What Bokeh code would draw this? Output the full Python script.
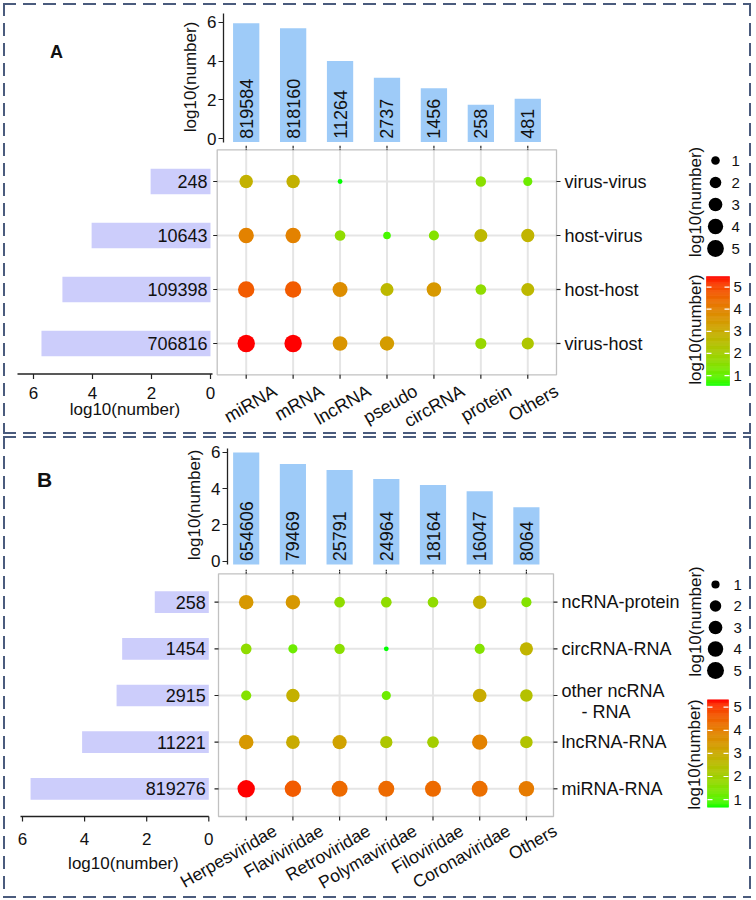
import numpy as np
from bokeh.plotting import figure
from bokeh.models import ColumnDataSource, Range1d, FixedTicker, LinearColorMapper, Div, BoxAnnotation
from bokeh.layouts import column, row
from bokeh.core.properties import value
from bokeh.embed import file_html
from bokeh.resources import INLINE

# ---------------- panel A data ----------------
A_COLS = ["miRNA", "mRNA", "lncRNA", "pseudo", "circRNA", "protein", "Others"]
A_COL_COUNTS = ["819584", "818160", "11264", "2737", "1456", "258", "481"]
A_COL_LOG = [5.95, 5.69, 4.01, 3.14, 2.60, 1.75, 2.06]
A_ROWS = ["virus-virus", "host-virus", "host-host", "virus-host"]
A_ROW_COUNTS = ["248", "10643", "109398", "706816"]
A_ROW_LOG = [2.03, 4.03, 5.02, 5.73]
A_VIRUS_VIRUS = [2.85, 2.85, 0.55, None, None, 1.54, 1.14]
A_HOST_VIRUS = [4.00, 4.00, 1.63, 0.80, 1.44, 2.67, 2.77]
A_HOST_HOST = [4.74, 4.74, 3.75, 2.67, 3.51, 1.63, 2.67]
A_VIRUS_HOST = [5.48, 5.48, 3.61, 3.41, None, 1.78, 2.28]

# ---------------- panel B data ----------------
B_COLS = ["Herpesviridae", "Flaviviridae", "Retroviridae", "Polymaviridae",
          "Filoviridae", "Coronaviridae", "Others"]
B_COL_COUNTS = ["654606", "79469", "25791", "24964", "18164", "16047", "8064"]
B_COL_LOG = [5.98, 5.35, 5.02, 4.53, 4.20, 3.85, 2.97]
B_ROWS = ["ncRNA-protein", "circRNA-RNA", "other ncRNA - RNA", "lncRNA-RNA", "miRNA-RNA"]
B_ROW_COUNTS = ["258", "1454", "2915", "11221", "819276"]
B_ROW_LOG = [1.74, 2.79, 2.97, 4.08, 5.74]
B_NCRNA_PROTEIN = [3.46, 3.46, 1.69, 1.69, 1.69, 2.86, 1.51]
B_CIRCRNA_RNA = [1.69, 1.23, 1.60, 0.67, None, 1.51, 2.76]
B_OTHER_NCRNA_RNA = [1.51, 2.86, None, 1.23, None, 2.99, 2.44]
B_LNCRNA_RNA = [3.46, 2.99, 3.23, 2.30, 2.07, 3.93, 2.39]
B_MIRNA_RNA = [5.32, 4.62, 4.39, 4.39, 4.39, 4.30, 4.06]

LEGEND_LEVELS = [1, 2, 3, 4, 5]
AXIS_TICKS = [0, 2, 4, 6]

FONT = "Liberation Sans"
TXT = "#111111"
AXC = "#222222"
GRID = "#e5e5e5"
BORDER = "#4a5b7d"
TOP_BAR = "#9ecbf8"
LEFT_BAR = "#cccdfb"


def lab_palette(lo_hex, hi_hex, n=256):
    M = np.array([[0.4124564, 0.3575761, 0.1804375],
                  [0.2126729, 0.7151522, 0.0721750],
                  [0.0193339, 0.1191920, 0.9503041]])
    Minv = np.linalg.inv(M)
    WP = np.array([0.95047, 1.0, 1.08883])
    d = 6 / 29

    def to_lab(h):
        rgb = np.array([int(h[i:i + 2], 16) / 255 for i in (1, 3, 5)])
        lin = np.where(rgb <= 0.04045, rgb / 12.92, ((rgb + 0.055) / 1.055) ** 2.4)
        xyz = M @ lin / WP
        f = np.where(xyz > d ** 3, np.cbrt(xyz), xyz / (3 * d * d) + 4 / 29)
        return np.array([116 * f[1] - 16, 500 * (f[0] - f[1]), 200 * (f[1] - f[2])])

    a, b = to_lab(lo_hex), to_lab(hi_hex)
    out = []
    for t in np.linspace(0, 1, n):
        L, A, B = a + (b - a) * t
        fy = (L + 16) / 116
        f = np.array([fy + A / 500, fy, fy - B / 200])
        xyz = np.where(f > d, f ** 3, 3 * d * d * (f - 4 / 29)) * WP
        lin = np.clip(Minv @ xyz, 0, 1)
        rgb = np.where(lin <= 0.0031308, 12.92 * lin, 1.055 * lin ** (1 / 2.4) - 0.055)
        out.append("#%02x%02x%02x" % tuple(int(round(c * 255)) for c in np.clip(rgb, 0, 1)))
    return out


PALETTE = lab_palette("#00ff00", "#ff0000")


def dot_size(v, vmin, vmax):
    return 4.8 + 12.6 * np.sqrt((v - vmin) / (vmax - vmin))


def fig(**kw):
    p = figure(toolbar_location=None, output_backend="svg", **kw)
    p.grid.visible = False
    p.outline_line_color = None
    p.background_fill_color = "white"
    p.border_fill_color = "white"
    return p


def txt(p, size, **kw):
    return p.text(text_font=value(FONT), text_font_size=value(size), text_color=TXT, **kw)


def build_panel(letter, cols, col_counts, col_log, rows, row_counts, row_log, dots, g):
    nc, nr = len(cols), len(rows)
    cx = list(range(nc))
    ry = list(range(nr))[::-1]
    vals = [v for r in dots for v in r if v is not None]
    vmin, vmax = min(vals), max(vals)
    mapper = LinearColorMapper(palette=PALETTE, low=vmin, high=vmax)

    bl, br, bt, bb = g["box"]
    top, r1b, bot = g["top"], g["row1_bottom"], g["bottom"]
    L, LL, R = 5, 684, 749

    def xm(px):
        return (px - g["col0"]) / g["col_step"]

    def ym(py):
        return (nr - 1) - (py - g["row0"]) / g["row_step"]

    def xl(px):
        return (g["lb_zero"] - px) / g["lb_unit"]

    def yt(py):
        return (g["tb_zero"] - py) / g["tb_unit"]

    # ---- panel letter ----
    div = Div(text=('<div style="font-family:\'Liberation Sans\',Arial;font-weight:bold;'
                    'font-size:%dpx;line-height:%dpx;padding:%dpx 0 0 %dpx;color:#111">%s</div>'
                    % (g["let_fs"], g["let_fs"], g["let_top"], g["let_left"], letter)),
              width=g["div_w"], height=r1b - top, margin=(0, 0, 0, 0))

    # ---- top bars ----
    tb_x0 = L + g["div_w"]
    tb = fig(width=LL - tb_x0, height=r1b - top,
             x_range=Range1d(xm(g["tb_left"]), xm(LL)), y_range=Range1d(yt(r1b), yt(top)),
             x_axis_location=None, min_border_left=g["tb_left"] - tb_x0,
             min_border_right=0, min_border_top=0, min_border_bottom=0)
    tsrc = ColumnDataSource(dict(x=cx, top=col_log, lab=col_counts))
    tb.vbar(x="x", top="top", bottom=yt(g["tb_bar_bottom"]), width=0.56, fill_color=TOP_BAR,
            line_color=None, source=tsrc)
    txt(tb, "18px", x="x", y=0, text="lab", angle=np.pi / 2, text_align="left",
        text_baseline="middle", source=tsrc)
    tb.segment(x0="x", x1="x", y0=yt(bt - 4), y1=yt(bt), line_color=AXC, line_width=1.2,
               source=tsrc)
    ya = tb.yaxis[0]
    ya.ticker = FixedTicker(ticks=AXIS_TICKS)
    ya.bounds = (yt(g["tb_bar_bottom"]), yt(g["tb_axis_top"]))
    ya.axis_label = "log10(number)"
    ya.major_label_text_font = FONT
    ya.major_label_text_font_size = "17px"
    ya.major_label_text_color = TXT
    ya.axis_label_text_font = FONT
    ya.axis_label_text_font_size = "17px"
    ya.axis_label_text_font_style = "normal"
    ya.axis_label_text_color = TXT
    ya.minor_tick_line_color = None
    ya.major_tick_line_color = AXC
    ya.major_tick_line_width = 1.2
    ya.axis_line_color = AXC
    ya.axis_line_width = 1.3
    ya.major_tick_in = 0
    ya.major_tick_out = 5
    ya.major_label_standoff = 2
    ya.axis_label_standoff = 4

    # ---- left bars + dot matrix (one canvas) ----
    m = fig(width=LL - L, height=bot - r1b,
            x_range=Range1d(xm(L), xm(LL)), y_range=Range1d(ym(bot), ym(r1b)),
            x_axis_location=None, y_axis_location=None,
            min_border_left=0, min_border_right=0, min_border_top=0, min_border_bottom=0)
    m.extra_x_ranges = {"lb": Range1d(xl(L), xl(LL))}
    csrc = ColumnDataSource(dict(x=cx, lab=cols))
    rlabs = [g["row_labels"].get(r, r) for r in rows]
    rsrc = ColumnDataSource(dict(y=ry, v=row_log, lab=row_counts, rlab=rlabs,
                                 yoff=[g["ml_yoff"] if "\n" in s else 0 for s in rlabs]))
    # grid lines inside the box
    m.segment(x0=xm(bl), x1=xm(br), y0="y", y1="y", source=rsrc, line_color=GRID, line_width=2)
    m.segment(x0="x", x1="x", y0=ym(bb), y1=ym(bt), source=csrc, line_color=GRID, line_width=2)
    # tick marks around the box
    m.segment(x0=xm(bl - 4), x1=xm(bl), y0="y", y1="y", source=rsrc,
              line_color=AXC, line_width=1.2)
    m.segment(x0=xm(br), x1=xm(br + 4), y0="y", y1="y", source=rsrc,
              line_color=AXC, line_width=1.2)
    m.segment(x0="x", x1="x", y0=ym(bt - 4), y1=ym(bt), source=csrc,
              line_color=AXC, line_width=1.2)
    m.segment(x0="x", x1="x", y0=ym(bb), y1=ym(bb + 4), source=csrc,
              line_color=AXC, line_width=1.2)
    # column labels (below) and row labels (right)
    txt(m, g["lab_fs"], x="x", y=ym(bb), text="lab", angle=np.pi / 6, text_align="right",
        text_baseline="top", x_offset=g["lab_dx"], y_offset=g["lab_dy"], source=csrc)
    txt(m, "18px", x=xm(br + 8), y="y", text="rlab", text_align="left",
        text_baseline="middle", y_offset="yoff", text_line_height=1.05, source=rsrc)
    # left bars
    m.hbar(y="y", right="v", left=0, height=g["bar_h"], x_range_name="lb",
           fill_color=LEFT_BAR, line_color=None, source=rsrc)
    txt(m, "18px", x=0, y="y", text="lab", x_range_name="lb", x_offset=-3, text_align="right",
        text_baseline="middle", source=rsrc)
    # left bar axis
    ax_y = g["lb_axis_y"]
    m.segment(x0=xl(g["lb_axis"][0]), x1=xl(g["lb_axis"][1]), y0=ym(ax_y), y1=ym(ax_y),
              x_range_name="lb", line_color=AXC, line_width=1.5)
    asrc = ColumnDataSource(dict(x=AXIS_TICKS, lab=[str(t) for t in AXIS_TICKS]))
    m.segment(x0="x", x1="x", y0=ym(ax_y), y1=ym(ax_y + 5), x_range_name="lb",
              line_color=AXC, line_width=1.2, source=asrc)
    txt(m, "17px", x="x", y=ym(g["lb_lab_y"]), text="lab", x_range_name="lb",
        text_align="center", text_baseline="middle", source=asrc)
    txt(m, "17px", x=xl(g["lb_title"][0]), y=ym(g["lb_title"][1]), text=["log10(number)"],
        x_range_name="lb", text_align="center", text_baseline="middle")
    # dots
    msrc = dict(x=[], y=[], v=[], sz=[])
    for i in range(nr):
        for j in range(nc):
            v = dots[i][j]
            if v is None:
                continue
            msrc["x"].append(cx[j])
            msrc["y"].append(ry[i])
            msrc["v"].append(v)
            msrc["sz"].append(dot_size(v, vmin, vmax))
    m.scatter(x="x", y="y", size="sz", source=ColumnDataSource(msrc),
              fill_color={"field": "v", "transform": mapper}, line_color=None)
    m.add_layout(BoxAnnotation(left=xm(bl), right=xm(br), top=ym(bt), bottom=ym(bb),
                               fill_color=None, line_color="#333333", line_width=1.3))

    # ---- legends (size + colour bar) ----
    lg = fig(width=R - LL, height=bot - top, x_range=Range1d(LL, R), y_range=Range1d(bot, top),
             x_axis_location=None, y_axis_location=None,
             min_border_left=0, min_border_right=0, min_border_top=0, min_border_bottom=0)
    sy = [g["sz_y1"] + (lv - 1) * g["sz_step"] for lv in LEGEND_LEVELS]
    ssrc = ColumnDataSource(dict(y=sy, lab=[str(v) for v in LEGEND_LEVELS],
                                 sz=[dot_size(v, vmin, vmax) for v in LEGEND_LEVELS]))
    lg.scatter(x=g["sz_x"], y="y", size="sz", fill_color="black", line_color=None, source=ssrc)
    txt(lg, "15px", x=g["sz_num_x"], y="y", text="lab", text_align="left",
        text_baseline="middle", source=ssrc)
    txt(lg, "17px", x=g["sz_title"][0], y=g["sz_title"][1], text=["log10(number)"],
        angle=np.pi / 2, text_align="center", text_baseline="middle")
    cl, cr, ct, cbm = g["cb"]

    def cb_y(v):
        return cbm - (v - vmin) / (vmax - vmin) * (cbm - ct)

    edges = np.linspace(vmin, vmax, 97)
    qsrc = ColumnDataSource(dict(b=[cb_y(e) for e in edges[:-1]], t=[cb_y(e) for e in edges[1:]],
                                 v=list((edges[:-1] + edges[1:]) / 2)))
    lg.quad(left=cl, right=cr, bottom="b", top="t", source=qsrc,
            fill_color={"field": "v", "transform": mapper},
            line_color={"field": "v", "transform": mapper}, line_width=0.6)
    ty = [cb_y(v) for v in LEGEND_LEVELS]
    ksrc = ColumnDataSource(dict(y=ty, lab=[str(v) for v in LEGEND_LEVELS]))
    lg.segment(x0=cl, x1=cl + 5, y0="y", y1="y", line_color="white", line_width=1.2, source=ksrc)
    lg.segment(x0=cr - 5, x1=cr, y0="y", y1="y", line_color="white", line_width=1.2, source=ksrc)
    txt(lg, "15px", x=g["cb_num_x"], y="y", text="lab", text_align="left",
        text_baseline="middle", source=ksrc)
    txt(lg, "17px", x=g["cb_title"][0], y=g["cb_title"][1], text=["log10(number)"],
        angle=np.pi / 2, text_align="center", text_baseline="middle")

    left = column(row(div, tb, spacing=0), m, spacing=0)
    C = BORDER
    styles = {
        "padding": "2px",
        "background-image": ", ".join(
            ["linear-gradient(to right, %s 65%%, transparent 65%%)" % C] * 2 +
            ["linear-gradient(to bottom, %s 65%%, transparent 65%%)" % C] * 2),
        "background-size": "20px 2px, 20px 2px, 2px 20px, 2px 20px",
        "background-position": "0 0, 0 100%, 0 0, 100% 0",
        "background-repeat": "repeat-x, repeat-x, repeat-y, repeat-y",
    }
    return row(left, lg, spacing=0, styles=styles)


GA = dict(top=5, row1_bottom=148, bottom=432,
          div_w=150, let_fs=18, let_left=45, let_top=38,
          col0=245.7, col_step=46.93, row0=181, row_step=54,
          box=(216.7, 556, 149.3, 374.3),
          tb_left=223, tb_zero=138.3, tb_unit=19.43, tb_axis_top=13.3, tb_bar_bottom=141.5,
          lb_zero=210, lb_unit=29.5, lb_axis=(17, 212), lb_axis_y=373.5, lb_lab_y=392.5,
          lb_title=(124.5, 409), bar_h=0.47, lab_dx=24, lab_dy=6, lab_fs="18px", ml_yoff=0,
          sz_title=(694.5, 201.5), sz_x=715, sz_y1=160, sz_step=22, sz_num_x=731,
          cb=(706, 729, 276, 385), cb_num_x=733, cb_title=(694.5, 329),
          row_labels={})
GB = dict(top=438, row1_bottom=571, bottom=896,
          div_w=150, let_fs=21, let_left=32, let_top=31,
          col0=245.7, col_step=46.7, row0=601.7, row_step=46.65,
          box=(218, 553, 573.3, 816),
          tb_left=227, tb_zero=560.7, tb_unit=18.17, tb_axis_top=448.3, tb_bar_bottom=564,
          lb_zero=208.3, lb_unit=31.05, lb_axis=(20, 208.3), lb_axis_y=816, lb_lab_y=838,
          lb_title=(122.9, 863), bar_h=0.465, lab_dx=24, lab_dy=4, lab_fs="17.5px", ml_yoff=6,
          sz_title=(695, 621), sz_x=715, sz_y1=584, sz_step=21.5, sz_num_x=733,
          cb=(707, 728, 699.3, 806.7), cb_num_x=733, cb_title=(693.7, 754),
          row_labels={"other ncRNA - RNA": "other ncRNA\n\u00a0\u00a0\u00a0\u00a0- RNA"})

panel_a = build_panel("A", A_COLS, A_COL_COUNTS, A_COL_LOG, A_ROWS, A_ROW_COUNTS, A_ROW_LOG,
                      [A_VIRUS_VIRUS, A_HOST_VIRUS, A_HOST_HOST, A_VIRUS_HOST], GA)
panel_b = build_panel("B", B_COLS, B_COL_COUNTS, B_COL_LOG, B_ROWS, B_ROW_COUNTS, B_ROW_LOG,
                      [B_NCRNA_PROTEIN, B_CIRCRNA_RNA, B_OTHER_NCRNA_RNA, B_LNCRNA_RNA,
                       B_MIRNA_RNA], GB)

p = column(panel_a, panel_b, spacing=2, margin=(3, 0, 0, 3))

open("out.html", "w").write(file_html(p, INLINE))
